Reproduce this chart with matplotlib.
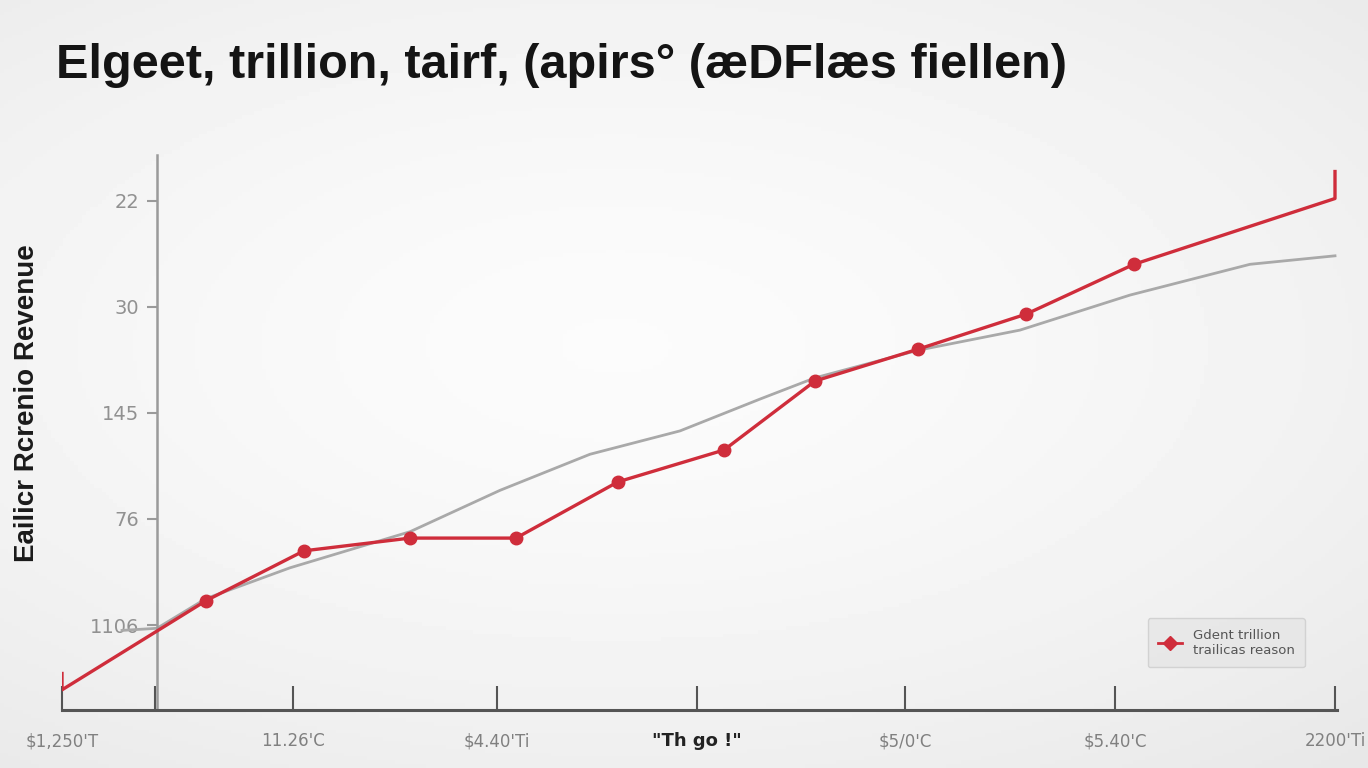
import matplotlib.pyplot as plt
import numpy as np

# data (x in chart units, y in tick-step units)
red_x = [0.0, 0.0, 1.44, 2.42, 3.48, 4.54, 5.56, 6.62, 7.53, 8.56, 9.64, 10.72, 12.73, 12.73]
red_y = [-0.44, -0.61, 0.23, 0.70, 0.82, 0.82, 1.35, 1.65, 2.30, 2.60, 2.93, 3.40, 4.02, 4.29]
marker_x = [1.44, 2.42, 3.48, 4.54, 5.56, 6.62, 7.53, 8.56, 9.64, 10.72]
marker_y = [0.23, 0.70, 0.82, 0.82, 1.35, 1.65, 2.30, 2.60, 2.93, 3.40]

grey_x = [0.6, 0.95, 1.44, 2.28, 3.48, 4.38, 5.28, 6.18, 6.98, 7.53, 8.56, 9.58, 10.68, 11.88, 12.73]
grey_y = [-0.05, -0.03, 0.25, 0.54, 0.88, 1.27, 1.61, 1.83, 2.13, 2.33, 2.59, 2.78, 3.11, 3.40, 3.48]

y_ticks = [0, 1, 2, 3, 4]
y_labels = ["1106", "76", "145", "30", "22"]
x_ticks = [0.0, 2.31, 4.35, 6.35, 8.43, 10.53, 12.73]
x_labels = ["$1,250'T", "11.26'C", "$4.40'Ti", "\"Th go !\"", "$5/0'C", "$5.40'C", "2200'Ti"]
extra_tick = 0.93

title = "Elgeet, trillion, tairf, (apirs\u00b0 (\u00e6DFl\u00e6s fiellen)"
ylabel = "Eailicr Rcrenio Revenue"
legend_label = "Gdent trillion\ntrailicas reason"

red = "#cf2d3b"
grey = "#a9a9a9"

fig = plt.figure(figsize=(13.68, 7.68), dpi=100)

# soft radial background
bg = fig.add_axes([0, 0, 1, 1], zorder=-10)
yy, xx = np.mgrid[0:1:200j, 0:1:350j]
r = np.sqrt(((xx - 0.45) / 0.9) ** 2 + ((yy - 0.45) / 0.8) ** 2)
bg.imshow(0.985 - 0.09 * r ** 1.6, cmap="gray", vmin=0, vmax=1, aspect="auto",
          extent=[0, 1, 0, 1])
bg.axis("off")

ax = fig.add_axes([62 / 1368, 1 - 710 / 768, (1337 - 62) / 1368, (710 - 155) / 768])
ax.patch.set_alpha(0)
ax.set_xlim(0, 12.75)
ax.set_ylim(-0.80, 4.43)

ax.plot(grey_x, grey_y, color=grey, lw=2, zorder=2)
ax.plot(red_x, red_y, color=red, lw=2.4, zorder=3, solid_capstyle="butt")
ax.plot(marker_x, marker_y, "o", color=red, ms=9, zorder=4)

for s in ["top", "right"]:
    ax.spines[s].set_visible(False)
ax.spines["left"].set_position(("data", 0.95))
ax.spines["left"].set_color("#9a9a9a")
ax.spines["left"].set_linewidth(1.8)
ax.spines["bottom"].set_color("#555555")
ax.spines["bottom"].set_linewidth(2.2)

ax.set_yticks(y_ticks)
ax.set_yticklabels(y_labels, color="#919191", fontsize=14)
ax.tick_params(axis="y", length=7, width=1.5, color="#9a9a9a", pad=6)

ax.set_xticks(x_ticks + [extra_tick])
ax.set_xticklabels(x_labels + [""], color="#808080", fontsize=12)
ax.tick_params(axis="x", direction="in", length=17, width=1.5, color="#555555", pad=16)
lbls = ax.get_xticklabels()
lbls[3].set_color("#222222")
lbls[3].set_fontweight("bold")
lbls[3].set_fontsize(13)

fig.text(14 / 1368, 1 - 403 / 768, ylabel, rotation=90, ha="left", va="center",
         fontsize=20, fontweight="bold", color="#1a1a1a", family="Liberation Sans")
fig.text(56 / 1368, 1 - 66 / 768, title, ha="left", va="center",
         fontsize=35, fontweight="bold", color="#141414", family="Liberation Sans")

leg = ax.legend([plt.Line2D([], [], color=red, lw=2, marker="D", ms=7)], [legend_label],
                loc="lower right", bbox_to_anchor=(0.975, 0.077), borderaxespad=0,
                fontsize=9.5, frameon=True, fancybox=True, handlelength=1.8,
                labelcolor="#555555", borderpad=0.8)
leg.get_frame().set_facecolor("#e6e6e6")
leg.get_frame().set_edgecolor("#cccccc")

fig.savefig("out.png", dpi=100)
